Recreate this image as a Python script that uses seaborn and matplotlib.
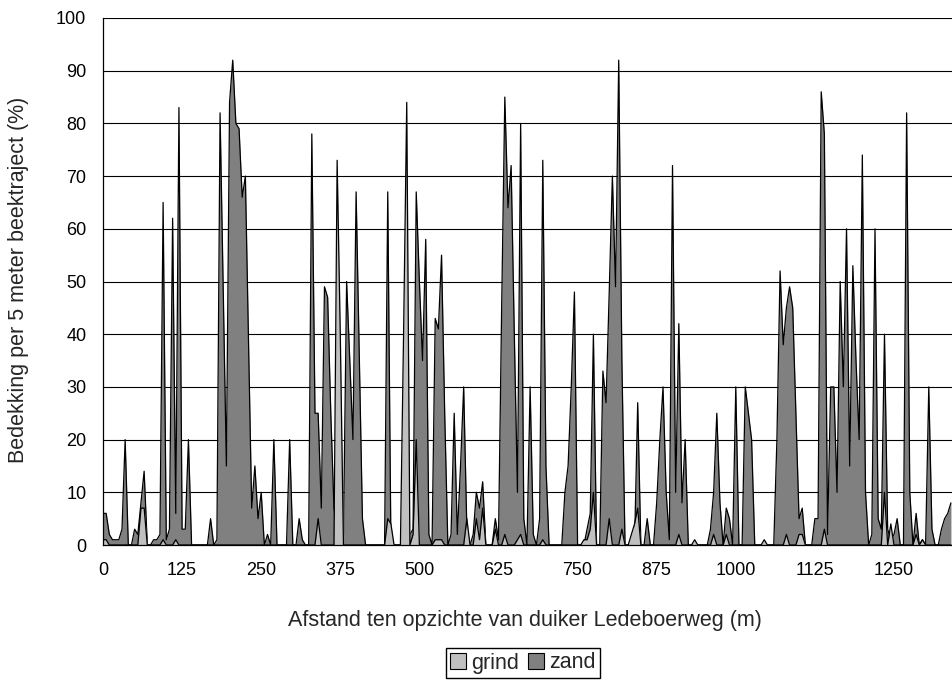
import matplotlib
matplotlib.use("Agg")
import matplotlib.pyplot as plt
from matplotlib.patches import Patch
from matplotlib.ticker import MultipleLocator
import pandas as pd
import seaborn as sns

# bedekking (%) per 5 m beektraject, vanaf duiker Ledeboerweg
zand_pct = [
    6, 6, 2, 1, 1, 1, 3, 20, 0, 0,
    3, 2, 8, 14, 0, 0, 1, 1, 2, 65,
    1, 3, 62, 6, 83, 3, 3, 20, 0, 0,
    0, 0, 0, 0, 5, 0, 1, 82, 48, 15,
    84, 92, 80, 79, 66, 70, 38, 7, 15, 5,
    10, 0, 2, 0, 20, 0, 0, 0, 0, 20,
    0, 0, 5, 1, 0, 0, 78, 25, 25, 7,
    49, 47, 25, 7, 3, 3, 2, 50, 35, 20,
    67, 36, 5, 0, 0, 0, 0, 0, 0, 0,
    67, 0, 0, 0, 0, 0, 0, 2, 3, 67,
    50, 35, 58, 2, 0, 43, 41, 55, 25, 0,
    2, 25, 2, 15, 30, 3, 0, 2, 10, 7,
    12, 0, 0, 0, 5, 1, 45, 85, 64, 72,
    40, 10, 80, 5, 0, 30, 2, 0, 5, 73,
    15, 0, 0, 0, 0, 0, 10, 15, 30, 48,
    0, 0, 0, 3, 6, 40, 0, 0, 33, 27,
    48, 70, 49, 92, 35, 0, 0, 0, 0, 27,
    0, 0, 5, 0, 0, 8, 20, 30, 10, 1,
    72, 10, 42, 8, 20, 0, 0, 0, 0, 0,
    0, 0, 3, 10, 25, 8, 0, 7, 5, 0,
    30, 0, 0, 30, 25, 20, 0, 0, 0, 0,
    0, 0, 0, 20, 52, 38, 45, 49, 45, 25,
    5, 7, 0, 0, 0, 5, 5, 86, 78, 2,
    30, 30, 10, 50, 30, 60, 15, 53, 35, 20,
    74, 10, 0, 2, 60, 5, 3, 40, 3, 1,
    2, 5, 0, 0, 82, 10, 0, 6, 0, 1,
    0, 30, 3, 0, 0, 3, 5, 6, 8,
]

grind_pct = [
    1, 1, 0, 0, 0, 0, 0, 0, 0, 0,
    0, 0, 7, 7, 0, 0, 0, 0, 0, 1,
    0, 0, 0, 1, 0, 0, 0, 0, 0, 0,
    0, 0, 0, 0, 0, 0, 0, 0, 0, 0,
    0, 0, 0, 0, 0, 0, 0, 0, 0, 0,
    0, 0, 0, 0, 0, 0, 0, 0, 0, 0,
    0, 0, 0, 0, 0, 0, 0, 0, 5, 0,
    0, 0, 0, 0, 73, 40, 0, 0, 0, 0,
    0, 0, 0, 0, 0, 0, 0, 0, 0, 0,
    5, 4, 0, 0, 0, 40, 84, 0, 2, 20,
    0, 0, 0, 0, 0, 1, 1, 1, 0, 0,
    0, 0, 0, 0, 0, 5, 0, 0, 5, 1,
    7, 0, 0, 0, 3, 0, 0, 2, 0, 0,
    0, 1, 2, 0, 0, 0, 0, 0, 0, 1,
    0, 0, 0, 0, 0, 0, 0, 0, 0, 0,
    0, 0, 1, 1, 3, 10, 0, 0, 0, 0,
    5, 0, 0, 0, 3, 0, 0, 2, 4, 7,
    0, 0, 0, 0, 0, 0, 0, 0, 0, 0,
    0, 0, 2, 0, 0, 0, 0, 1, 0, 0,
    0, 0, 0, 2, 0, 0, 0, 2, 0, 0,
    0, 0, 0, 0, 0, 0, 0, 0, 0, 1,
    0, 0, 0, 0, 0, 0, 2, 0, 0, 0,
    2, 2, 0, 0, 0, 0, 0, 0, 3, 0,
    0, 0, 0, 0, 0, 0, 0, 0, 0, 0,
    0, 0, 0, 0, 0, 0, 0, 10, 0, 4,
    0, 0, 0, 0, 0, 0, 0, 2, 0, 1,
    0, 0, 0, 0, 0, 0, 0, 0, 0,
]

afstand_m = list(range(0, 5 * len(zand_pct), 5))
x_labels = [0, 125, 250, 375, 500, 625, 750, 875, 1000, 1125, 1250]
series_names = ["grind", "zand"]
series_colors = {"grind": "#c0c0c0", "zand": "#808080"}

sns.set_style("white")
plt.rcParams["font.family"] = ["Liberation Sans", "DejaVu Sans"]

TICK_FS = 13
LABEL_FS = 15.5

df = pd.DataFrame({"afstand": afstand_m, "grind": grind_pct, "zand": zand_pct})

fig = plt.figure(figsize=(9.52, 6.82), dpi=100)
ax = fig.add_axes([103 / 952, 137 / 682, 849 / 952, 527 / 682])

# zand achter, grind ervoor (zoals in het origineel)
ax.fill_between(df["afstand"], 0, df["zand"], color=series_colors["zand"], lw=0, zorder=2)
sns.lineplot(data=df, x="afstand", y="zand", color="black", lw=0.9, ax=ax, zorder=3)
ax.fill_between(df["afstand"], 0, df["grind"], color=series_colors["grind"], lw=0, zorder=4)
sns.lineplot(data=df, x="afstand", y="grind", color="black", lw=0.9, ax=ax, zorder=5)

ax.set_xlim(0, 1341.7)
ax.set_ylim(0, 100)
ax.set_xticks(x_labels)
ax.set_xticklabels([str(v) for v in x_labels])
ax.xaxis.set_minor_locator(MultipleLocator(25))
ax.set_yticks(range(0, 101, 10))

ax.yaxis.grid(True, color="black", lw=0.8, zorder=1)
ax.set_axisbelow(True)
for side in ["top", "right"]:
    ax.spines[side].set_visible(False)
for side in ["left", "bottom"]:
    ax.spines[side].set_color("black")
    ax.spines[side].set_linewidth(0.9)
    ax.spines[side].set_zorder(6)

ax.tick_params(axis="both", which="both", direction="out", length=6, width=0.8,
               color="black", labelsize=TICK_FS, labelcolor="black")
ax.tick_params(axis="x", which="minor", length=6)
ax.tick_params(axis="x", pad=6)
ax.tick_params(axis="y", pad=6)

ax.set_xlabel("Afstand ten opzichte van duiker Ledeboerweg (m)", fontsize=LABEL_FS)
ax.set_ylabel("Bedekking per 5 meter beektraject (%)", fontsize=LABEL_FS)
ax.xaxis.set_label_coords(0.497, -0.124)
ax.yaxis.set_label_coords(-0.087, 0.503)

handles = [Patch(facecolor=series_colors[n], edgecolor="black", lw=0.8) for n in series_names]
fig.legend(handles, series_names, loc="center", bbox_to_anchor=(523 / 952, 1 - 663 / 682),
           ncol=2, frameon=True, fancybox=False, edgecolor="black", framealpha=1,
           handlelength=0.75, handleheight=0.75, handletextpad=0.25, columnspacing=0.4,
           borderpad=0.2, fontsize=LABEL_FS)

fig.savefig("out.png", dpi=100)
